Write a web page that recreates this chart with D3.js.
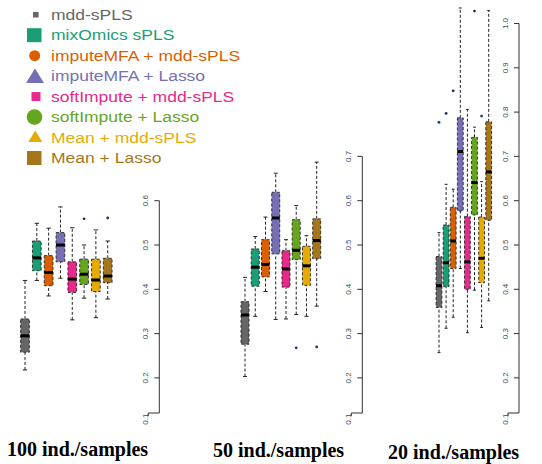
<!DOCTYPE html>
<html>
<head>
<meta charset="utf-8">
<script src="https://cdn.jsdelivr.net/npm/d3@7"></script>
<style>
  body { margin: 0; background: #fff; }
  svg { display: block; }
</style>
</head>
<body>
<svg id="chart" width="542" height="464"></svg>
<script>
// methods and colours (Dark2)
var methods = ["mdd-sPLS", "mixOmics sPLS", "imputeMFA + mdd-sPLS", "imputeMFA + Lasso",
               "softImpute + mdd-sPLS", "softImpute + Lasso", "Mean + mdd-sPLS", "Mean + Lasso"];
var colors = ["#666666", "#1B9E77", "#D95F02", "#7570B3", "#E7298A", "#66A61E", "#E6AB02", "#A6761D"];
var shapes = ["smallsquare", "square", "circle", "triangle", "midsquare", "bigcircle", "smalltriangle", "square"];

// [lower whisker, q1, median, q3, upper whisker] per method
var stats100 = [
  [0.218, 0.258, 0.295, 0.333, 0.420],
  [0.420, 0.442, 0.471, 0.509, 0.549],
  [0.385, 0.408, 0.438, 0.476, 0.538],
  [0.425, 0.462, 0.500, 0.528, 0.586],
  [0.331, 0.393, 0.423, 0.462, 0.539],
  [0.380, 0.411, 0.434, 0.468, 0.500],
  [0.336, 0.395, 0.421, 0.468, 0.534],
  [0.378, 0.415, 0.430, 0.470, 0.509]
];
var outliers100 = [[], [], [], [], [], [0.559], [], [0.561]];

var stats50 = [
  [0.203, 0.276, 0.342, 0.372, 0.427],
  [0.339, 0.407, 0.450, 0.491, 0.519],
  [0.395, 0.428, 0.456, 0.512, 0.563],
  [0.332, 0.480, 0.561, 0.619, 0.662],
  [0.333, 0.405, 0.446, 0.487, 0.512],
  [0.343, 0.467, 0.488, 0.557, 0.589],
  [0.339, 0.409, 0.453, 0.497, 0.521],
  [0.362, 0.469, 0.510, 0.559, 0.687]
];
var outliers50 = [[], [], [], [], [], [0.268], [], [0.270]];

var stats20 = [
  [0.257, 0.359, 0.408, 0.474, 0.528],
  [0.312, 0.406, 0.460, 0.545, 0.637],
  [0.337, 0.447, 0.509, 0.585, 0.626],
  [0.447, 0.577, 0.711, 0.787, 1.035],
  [0.302, 0.400, 0.462, 0.564, 0.806],
  [0.398, 0.568, 0.641, 0.743, 0.766],
  [0.314, 0.415, 0.470, 0.563, 0.643],
  [0.374, 0.556, 0.665, 0.778, 1.029]
];
var outliers20 = [[0.777], [0.797], [0.848], [], [], [1.028], [0.791], []];

var ticks100 = [0.1, 0.2, 0.3, 0.4, 0.5, 0.6];
var ticks50 = [0.1, 0.2, 0.3, 0.4, 0.5, 0.6, 0.7];
var ticks20 = [0.1, 0.2, 0.3, 0.4, 0.5, 0.6, 0.7, 0.8, 0.9, 1.0];

var panelLabels = ["100 ind./samples", "50 ind./samples", "20 ind./samples"];

var svg = d3.select("#chart");

// all three panels share the same vertical scale
var y = d3.scaleLinear().domain([0.1, 1.0]).range([422.2, 23.5]);

var panels = [
  { stats: stats100, out: outliers100, ticks: ticks100, x0: 25, x1: 107.7, bw: 8.7, axisX: 159.3, label: panelLabels[0], lx: 7, ly: 455.5 },
  { stats: stats50, out: outliers50, ticks: ticks50, x0: 245, x1: 316.7, bw: 8, axisX: 362.3, label: panelLabels[1], lx: 213, ly: 456.5 },
  { stats: stats20, out: outliers20, ticks: ticks20, x0: 439, x1: 488.7, bw: 5.8, axisX: 519, label: panelLabels[2], lx: 388, ly: 458.5 }
];

panels.forEach(function(p) {
  var x = d3.scalePoint().domain(methods).range([p.x0, p.x1]);
  var g = svg.append("g");

  var box = g.selectAll("g.box")
    .data(p.stats)
    .enter().append("g")
    .attr("class", "box");

  // whiskers
  box.append("line")
    .attr("x1", function(d, i) { return x(methods[i]); })
    .attr("x2", function(d, i) { return x(methods[i]); })
    .attr("y1", function(d) { return y(d[0]); })
    .attr("y2", function(d) { return y(d[1]); })
    .attr("stroke", "#222").attr("stroke-dasharray", "3,2");
  box.append("line")
    .attr("x1", function(d, i) { return x(methods[i]); })
    .attr("x2", function(d, i) { return x(methods[i]); })
    .attr("y1", function(d) { return y(d[3]); })
    .attr("y2", function(d) { return y(d[4]); })
    .attr("stroke", "#222").attr("stroke-dasharray", "3,2");
  // staples
  [0, 4].forEach(function(k) {
    box.append("line")
      .attr("x1", function(d, i) { return x(methods[i]) - p.bw / 4; })
      .attr("x2", function(d, i) { return x(methods[i]) + p.bw / 4; })
      .attr("y1", function(d) { return y(d[k]); })
      .attr("y2", function(d) { return y(d[k]); })
      .attr("stroke", "#222");
  });

  // boxes
  box.append("rect")
    .attr("x", function(d, i) { return x(methods[i]) - p.bw / 2; })
    .attr("y", function(d) { return y(d[3]); })
    .attr("width", p.bw)
    .attr("height", function(d) { return y(d[1]) - y(d[3]); })
    .attr("fill", function(d, i) { return colors[i]; })
    .attr("stroke", "#222")
    .attr("stroke-width", 0.9)
    .attr("stroke-dasharray", "3,2");

  // medians
  box.append("line")
    .attr("x1", function(d, i) { return x(methods[i]) - p.bw / 2; })
    .attr("x2", function(d, i) { return x(methods[i]) + p.bw / 2; })
    .attr("y1", function(d) { return y(d[2]); })
    .attr("y2", function(d) { return y(d[2]); })
    .attr("stroke", "#000")
    .attr("stroke-width", 3);

  // outliers
  p.out.forEach(function(vals, i) {
    g.selectAll(null).data(vals).enter().append("circle")
      .attr("cx", x(methods[i]))
      .attr("cy", function(v) { return y(v); })
      .attr("r", 1.4)
      .attr("fill", "#1f2f60");
  });

  // axis (R style, labels rotated)
  var top = y(p.ticks[p.ticks.length - 1]);
  var bottom = 413;
  var ax = svg.append("g");
  ax.append("path")
    .attr("d", "M" + p.axisX + "," + top + "V" + bottom + "H" + (p.axisX - 11) + "v3")
    .attr("fill", "none").attr("stroke", "#333");
  ax.selectAll("line.tick")
    .data(p.ticks.slice(1))
    .enter().append("line")
    .attr("x1", p.axisX - 5).attr("x2", p.axisX)
    .attr("y1", function(t) { return y(t); })
    .attr("y2", function(t) { return y(t); })
    .attr("stroke", "#333");
  ax.selectAll("text")
    .data(p.ticks)
    .enter().append("text")
    .attr("transform", function(t) {
      var ty = t === 0.1 ? y(t) - 3 : y(t);
      return "translate(" + (p.axisX - 11) + "," + ty + ") rotate(-90)";
    })
    .attr("text-anchor", "middle")
    .attr("font-family", "Liberation Sans, Arial, sans-serif")
    .attr("font-size", 8)
    .attr("fill", "#3b4a5c")
    .text(function(t) { return d3.format(".1f")(t); });

  // panel caption
  svg.append("text")
    .attr("x", p.lx).attr("y", p.ly)
    .attr("font-family", "Liberation Serif, Times New Roman, serif")
    .attr("font-weight", "bold")
    .attr("font-size", 20)
    .attr("fill", "#000")
    .text(p.label);
});

// legend
var legendY = d3.scalePoint().domain(methods).range([14.7, 158]);
var leg = svg.append("g").selectAll("g")
  .data(methods)
  .enter().append("g")
  .attr("transform", function(d) { return "translate(0," + legendY(d) + ")"; });

leg.each(function(d, i) {
  var s = d3.select(this);
  var c = colors[i];
  var sh = shapes[i];
  if (sh === "smallsquare") {
    s.append("rect").attr("x", 33).attr("y", -2.8).attr("width", 5.6).attr("height", 5.6).attr("fill", c);
  } else if (sh === "square") {
    s.append("rect").attr("x", 27).attr("y", -7).attr("width", 14.5).attr("height", 14).attr("fill", c);
  } else if (sh === "midsquare") {
    s.append("rect").attr("x", 31.5).attr("y", -4.5).attr("width", 9).attr("height", 9).attr("fill", c);
  } else if (sh === "circle") {
    s.append("circle").attr("cx", 34.7).attr("cy", 0).attr("r", 5.5).attr("fill", c);
  } else if (sh === "bigcircle") {
    s.append("circle").attr("cx", 34.5).attr("cy", 0).attr("r", 7.8).attr("fill", c);
  } else if (sh === "triangle") {
    s.append("path").attr("d", "M35,-7.5L44,7L26,7Z").attr("fill", c);
  } else if (sh === "smalltriangle") {
    s.append("path").attr("d", "M35.3,-7L42.3,4.5L28.3,4.5Z").attr("fill", c);
  }
  s.append("text")
    .attr("transform", "translate(51,5) scale(1.13,1)")
    .attr("font-family", "Liberation Sans, Arial, sans-serif")
    .attr("font-size", 15.5)
    .attr("fill", c)
    .text(d);
});
</script>
</body>
</html>
